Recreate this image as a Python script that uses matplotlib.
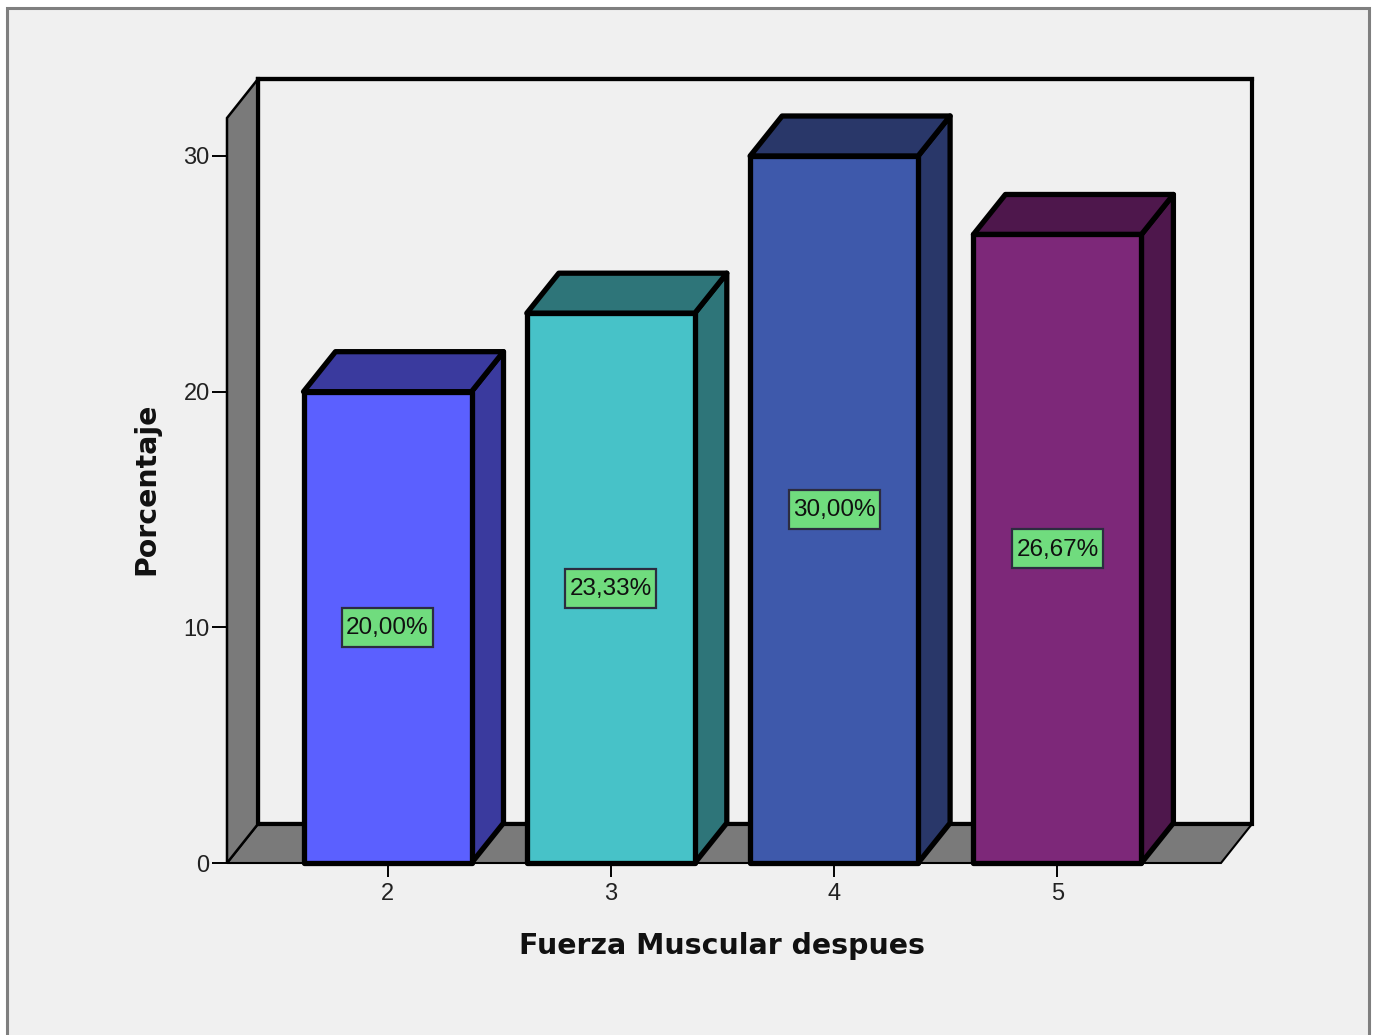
import matplotlib
matplotlib.use("Agg")
import matplotlib.pyplot as plt
from matplotlib.patches import Polygon, Rectangle

plt.rcParams["font.family"] = ["Liberation Sans", "DejaVu Sans"]

# Chart data
categories = ["2", "3", "4", "5"]
percentages = [20.00, 23.33, 30.00, 26.67]
y_ticks = [0, 10, 20, 30]
x_title = "Fuerza Muscular despues"
y_title = "Porcentaje"

# Face colours of each bar: front, side and top
front_colors = ["#5b60ff", "#47c2c8", "#3e59ab", "#7d2879"]
shade_colors = ["#3a3a9e", "#2e7579", "#293769", "#4e174c"]

W, H = 1376, 1035
BG = "#f0f0f0"
WALL = "#7a7a7a"
LABEL_BG = "#70dc7e"

fig = plt.figure(figsize=(W / 100, H / 100), dpi=100, facecolor="white")

# Outer chart frame, kept behind the axes
fig.add_artist(Rectangle((6.5 / W, -0.01), 1362 / W, (H - 8) / H + 0.01,
                         transform=fig.transFigure, facecolor=BG,
                         edgecolor="#7f7f7f", linewidth=2.2, zorder=-1))

# The axes span the front floor line up to the top of the back wall
left, right, bottom, top = 227, 1252, 863, 79
ax = fig.add_axes([left / W, (H - bottom) / H, (right - left) / W, (bottom - top) / H])
ax.patch.set_visible(False)
for side in ax.spines.values():
    side.set_visible(False)

cat_step = 223.3
unit = (863 - 156) / 30
x0_px = 387.5
ax.set_xlim((left - x0_px) / cat_step, (right - x0_px) / cat_step)
ax.set_ylim(0, (bottom - top) / unit)

# Oblique projection offset of the depth direction
dx = 31 / cat_step
dy = 39 / unit
bar_w = 168 / cat_step
box_w = 91 / cat_step
box_h = 39 / unit
x_min, x_floor_end = ax.get_xlim()[0], ax.get_xlim()[1] - dx
x_back = x_min + dx
y_max = ax.get_ylim()[1]

# Side wall, floor and back wall
ax.add_patch(Rectangle((x_back, dy), x_floor_end + dx - x_back, y_max - dy,
                       facecolor=BG, edgecolor="black", linewidth=3.0, zorder=1, clip_on=False))
ax.add_patch(Polygon([(x_min, 0), (x_floor_end, 0), (x_floor_end + dx, dy), (x_back, dy)],
                     facecolor=WALL, edgecolor="black", linewidth=1.5, zorder=1.5, clip_on=False))
ax.plot([x_back, x_floor_end + dx], [dy, dy], color="black", lw=3.0, zorder=1.6,
        solid_capstyle="butt", clip_on=False)
ax.add_patch(Polygon([(x_min, 0), (x_back, dy), (x_back, y_max), (x_min, y_max - dy)],
                     facecolor=WALL, edgecolor="black", linewidth=1.8, zorder=1.7, clip_on=False))
ax.plot([x_back, x_back], [dy, y_max], color="black", lw=3.0, zorder=1.8, clip_on=False)
ax.plot([x_back, x_floor_end + dx], [y_max, y_max], color="black", lw=3.0, zorder=1.8, clip_on=False)

# Bars, each with side and top faces, and a centred value label
bar_dx = 32 / cat_step
bar_dy = 40 / unit
edge = dict(edgecolor="black", linewidth=3.8, joinstyle="round", zorder=3, clip_on=False)
for i, (value, front, shade) in enumerate(zip(percentages, front_colors, shade_colors)):
    x1, x2 = i - bar_w / 2, i + bar_w / 2
    ax.add_patch(Polygon([(x2, 0), (x2 + bar_dx, bar_dy), (x2 + bar_dx, value + bar_dy), (x2, value)],
                         facecolor=shade, **edge))
    ax.add_patch(Polygon([(x1, value), (x2, value), (x2 + bar_dx, value + bar_dy), (x1 + bar_dx, value + bar_dy)],
                         facecolor=shade, **edge))
    ax.add_patch(Rectangle((x1, 0), bar_w, value, facecolor=front, **edge))
    ax.add_patch(Rectangle((i - box_w / 2, value / 2 - box_h / 2), box_w, box_h,
                           facecolor=LABEL_BG, edgecolor="#2c2c40", linewidth=1.6, zorder=4))
    ax.annotate(f"{value:.2f}%".replace(".", ","), (i, value / 2), xytext=(0, -0.7),
                textcoords="offset points", ha="center", va="center",
                fontsize=17.5, color="#101010", zorder=5)

# Axes ticks and titles
ax.set_xticks(range(len(categories)), categories)
ax.set_yticks(y_ticks)
ax.tick_params(axis="y", length=11, width=1.4, pad=1.5, labelsize=17, labelcolor="#222222")
ax.tick_params(axis="x", length=10, width=1.4, pad=4.5, labelsize=17, labelcolor="#222222")
title_font = dict(family="DejaVu Sans", fontsize=20.4, fontweight="bold", color="#111111")
ax.set_xlabel(x_title, **title_font)
ax.set_ylabel(y_title, **title_font)
ax.xaxis.set_label_coords(722 / W, (H - 946) / H, transform=fig.transFigure)
ax.xaxis.label.set_verticalalignment("center")
ax.yaxis.set_label_coords(146 / W, (H - 488.5) / H, transform=fig.transFigure)
ax.yaxis.label.set_verticalalignment("center")

fig.savefig("out.png", dpi=100, facecolor="white")
